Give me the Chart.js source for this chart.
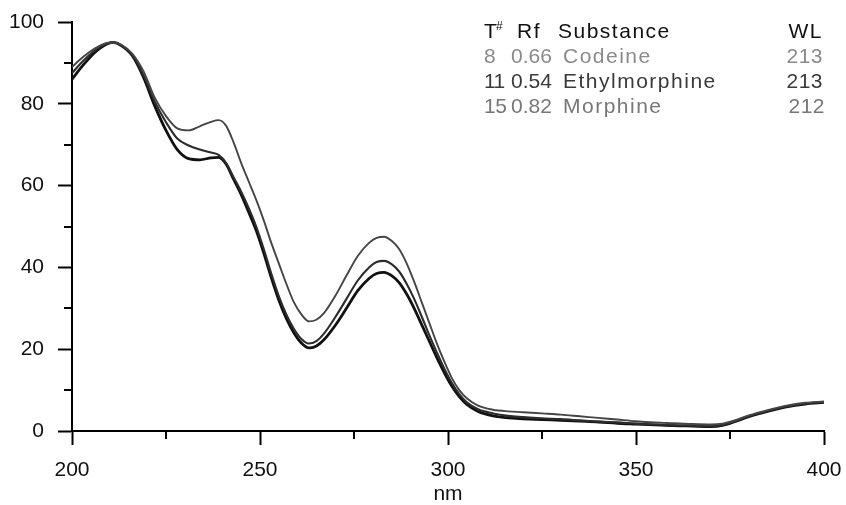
<!DOCTYPE html>
<html><head><meta charset="utf-8">
<script src="https://cdn.jsdelivr.net/npm/chart.js@4.4.1/dist/chart.umd.min.js"></script>
<style>html,body{margin:0;padding:0;background:#fff;}#wrap{width:846px;height:505px;position:relative;}</style>
</head><body><div id="wrap"><canvas id="c" width="846" height="505"></canvas></div>
<script>
// wavelength grid (nm)
const wavelengths = [200,203,206,209,211,213,216,219,222,225,228,231,234,237,239,241,243,245,247,249,251,253,255,257,259,261,263,265,267,270,273,276,279,281,283,285,287,289,291,293,295,297,299,301,303,305,308,312,316,320,325,330,335,340,345,350,355,360,365,370,373,376,380,385,390,395,400];
// upper spectrum
const codeine = [89,91.5,93.5,94.8,95,94.5,92.3,88,81.5,77,74,73.5,74.5,75.6,76,74.6,70.5,65.5,61,56.5,51.5,46,41,36,31.5,28.5,26.8,27.2,28.8,33,38,42.8,46,47.2,47.5,46.5,44.5,41,36.5,31.5,26.5,21.5,17,13,10,8,6.2,5.2,4.8,4.6,4.3,4,3.6,3.2,2.8,2.4,2.1,1.9,1.7,1.6,1.8,2.5,3.8,5.1,6.2,6.9,7.2];
// middle spectrum
const morphine = [87.5,90.5,93,94.7,95,94.4,92,87,80.5,75.5,71.5,69.8,68.8,68.1,67.5,65.5,62,58.5,54.5,50,44.5,38.5,33,28.5,25,22.5,21.4,22,23.8,27.8,32.3,36.8,40,41.3,41.6,40.8,39,36,32.3,28,23.5,19.3,15.3,11.8,9,7,5.3,4.3,3.7,3.4,3.1,2.9,2.6,2.3,2.1,1.8,1.6,1.4,1.3,1.2,1.5,2.3,3.6,4.9,6,6.7,7.1];
// lower spectrum
const ethylmorphine = [86,89.5,92.5,94.5,95,94.3,91.8,86.5,79.5,73.5,68.8,66.6,66.3,66.8,66.9,65.2,61.5,57.8,53.5,49,43.5,37.5,32,27.5,24,21.5,20.3,20.8,22.3,25.8,30,34.3,37.3,38.5,38.8,38,36.3,33.5,30,26,22,18,14.3,11,8.4,6.5,4.8,3.7,3.2,3,2.8,2.6,2.4,2.2,1.9,1.7,1.5,1.3,1.2,1.1,1.4,2.2,3.5,4.8,5.9,6.6,7];

// legend table
const tableHeader = ['T', '#', 'Rf', 'Substance', 'WL'];
const trackNumbers = ['8', '11', '15'];
const rfValues = ['0.66', '0.54', '0.82'];
const substances = ['Codeine', 'Ethylmorphine', 'Morphine'];
const lambdaMax = ['213', '213', '212'];
const rowColors = ['#8a8a8a', '#3a3a3a', '#777777'];

// axis ticks
const xMinorTicks = [225, 275, 325, 375];
const yMinorTicks = [10, 30, 50, 70, 90];

const FONT = '"Liberation Sans", Arial, sans-serif';
Chart.defaults.font.family = FONT;
Chart.defaults.color = '#111';

function pts(ys) { return wavelengths.map((x, i) => ({x, y: ys[i]})); }

const minorTickPlugin = {
  id: 'minorTicks',
  afterDraw(chart) {
    const ctx = chart.ctx, xs = chart.scales.x, ys = chart.scales.y;
    ctx.save();
    ctx.strokeStyle = '#000';
    ctx.lineWidth = 2;
    ctx.beginPath();
    xMinorTicks.forEach(v => { const p = Math.round(xs.getPixelForValue(v)); ctx.moveTo(p, xs.top); ctx.lineTo(p, xs.top + 8); });
    yMinorTicks.forEach(v => { const p = Math.round(ys.getPixelForValue(v)); ctx.moveTo(ys.right, p); ctx.lineTo(ys.right - 8, p); });
    ctx.stroke();
    ctx.restore();
  }
};

const tablePlugin = {
  id: 'table',
  afterDraw(chart) {
    const ctx = chart.ctx;
    ctx.save();
    ctx.textBaseline = 'alphabetic';
    ctx.fillStyle = '#111';
    const big = '21px ' + FONT;
    const colNum = 484, colRf = 511, colName = 563, colWLEnd = 823, headY = 38, rowH = 25;
    ctx.textAlign = 'left';
    ctx.letterSpacing = '0px';
    ctx.font = big;
    ctx.fillText(tableHeader[0], colNum, headY);
    ctx.font = '12px ' + FONT;
    ctx.fillText(tableHeader[1], colNum + 12, headY - 8);
    ctx.font = big;
    ctx.letterSpacing = '1.5px';
    ctx.fillText(tableHeader[2], 517, headY);
    ctx.fillText(tableHeader[3], 558, headY);
    ctx.textAlign = 'right';
    ctx.fillText(tableHeader[4], colWLEnd, headY);
    substances.forEach((s, i) => {
      const y = headY + rowH * (i + 1);
      ctx.fillStyle = rowColors[i];
      ctx.textAlign = 'left';
      ctx.letterSpacing = '-0.5px';
      ctx.fillText(trackNumbers[i], colNum, y);
      ctx.letterSpacing = '0px';
      ctx.fillText(rfValues[i], colRf, y);
      ctx.letterSpacing = '1.5px';
      ctx.fillText(s, colName, y);
      ctx.textAlign = 'right';
      ctx.letterSpacing = '0.5px';
      ctx.fillText(lambdaMax[i], colWLEnd + (i === 2 ? 2 : 0), y);
    });
    ctx.restore();
  }
};

new Chart(document.getElementById('c'), {
  type: 'line',
  data: {
    datasets: [
      { label: 'Codeine', data: pts(codeine), borderColor: '#454545', borderWidth: 1.9 },
      { label: 'Morphine', data: pts(morphine), borderColor: '#2c2c2c', borderWidth: 2.1 },
      { label: 'Ethylmorphine', data: pts(ethylmorphine), borderColor: '#111', borderWidth: 2.8 }
    ]
  },
  options: {
    responsive: false,
    animation: false,
    devicePixelRatio: 1,
    elements: { point: { radius: 0 }, line: { cubicInterpolationMode: 'monotone', fill: false } },
    layout: { padding: { left: 0, top: 22, right: 22, bottom: 0 } },
    plugins: { legend: { display: false }, tooltip: { enabled: false } },
    scales: {
      x: {
        type: 'linear', min: 200, max: 400,
        afterFit: s => { s.height = 74; s.paddingRight = 0; s.paddingLeft = 0; },
        ticks: { stepSize: 50, padding: 13, color: '#111', font: { size: 21 } },
        grid: { display: true, drawOnChartArea: false, drawTicks: true, tickLength: 14, tickWidth: 2, tickColor: '#000' },
        border: { display: true, color: '#000', width: 2 },
        title: { display: true, text: 'nm', color: '#111', font: { size: 21, lineHeight: 1 }, padding: { top: 0, bottom: 0 } }
      },
      y: {
        type: 'linear', min: 0, max: 100,
        afterFit: s => { s.width = 72; s.paddingTop = 0; s.paddingBottom = 0; },
        ticks: { stepSize: 20, padding: 14, color: '#111', font: { size: 21 } },
        grid: { display: true, drawOnChartArea: false, drawTicks: true, tickLength: 14, tickWidth: 2, tickColor: '#000' },
        border: { display: true, color: '#000', width: 2 }
      }
    }
  },
  plugins: [minorTickPlugin, tablePlugin]
});
</script></body></html>
